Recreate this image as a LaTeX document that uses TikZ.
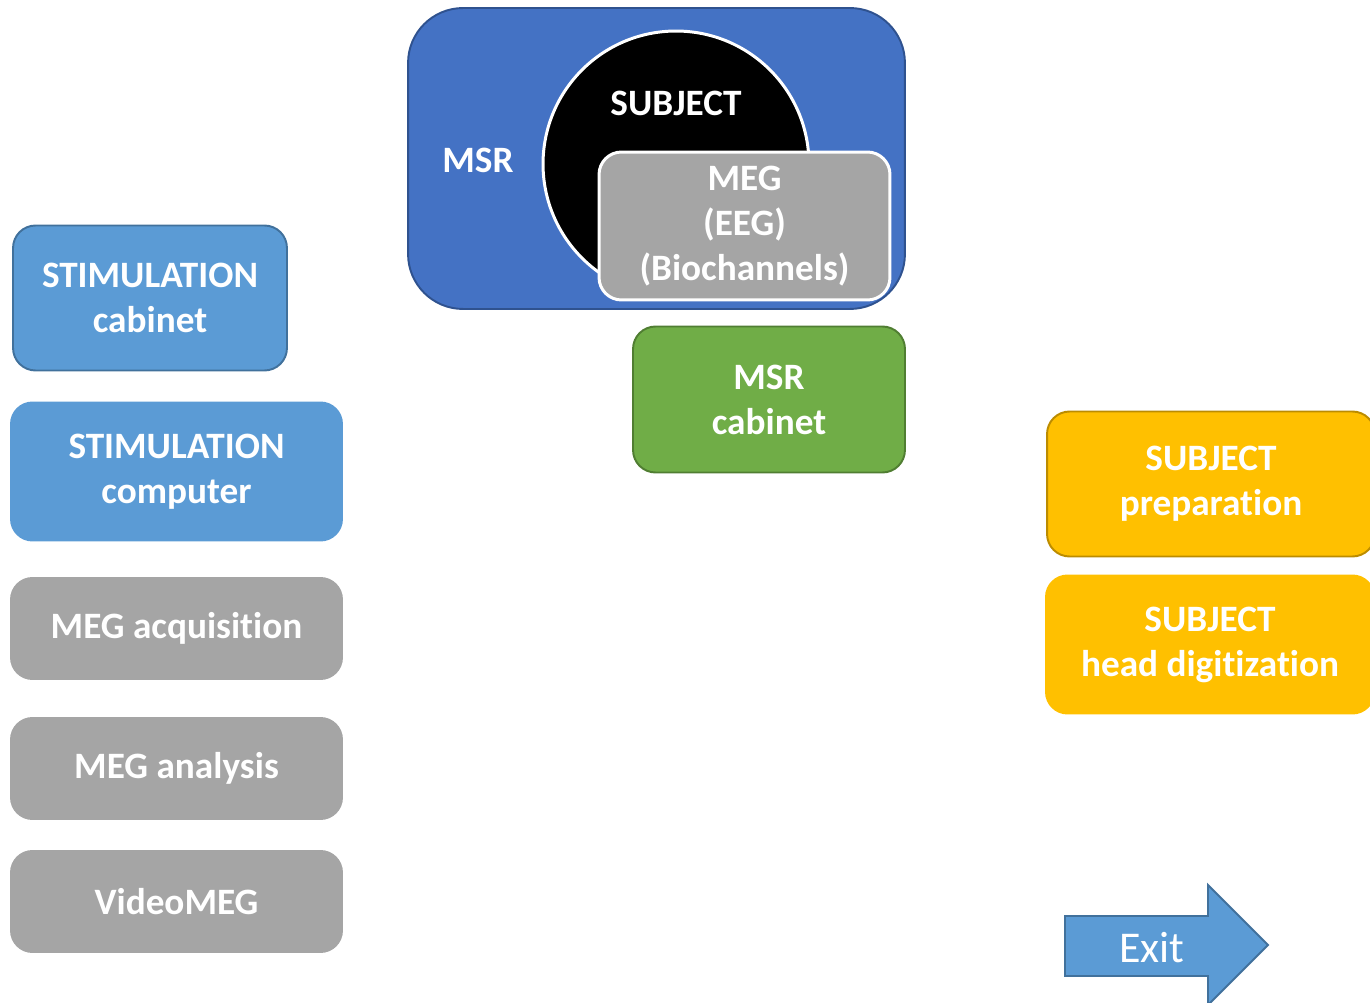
\documentclass[tikz,border=0pt]{standalone}
\usepackage{fontspec}
\setmainfont{Carlito}[Ligatures=NoCommon]
\usepackage{tikz}
\usetikzlibrary{positioning}
\definecolor{msrblue}{HTML}{4472C4}
\definecolor{msredge}{HTML}{2F528F}
\definecolor{stimblue}{HTML}{5B9BD5}
\definecolor{stimedge}{HTML}{41719C}
\definecolor{boxgray}{HTML}{A5A5A5}
\definecolor{cabgreen}{HTML}{70AD47}
\definecolor{cabedge}{HTML}{507E32}
\definecolor{subjgold}{HTML}{FFC000}
\definecolor{subjedge}{HTML}{BC8C00}
\tikzset{
	labeltext/.style={font=\fontsize{21.2}{25.6}\selectfont\bfseries, text=white, align=center}
}
\tikzset{
	roundbox/.style={labeltext, rectangle, rounded corners=0.45cm, inner sep=0pt, line width=1.1pt}
}

\begin{document}
\begin{tikzpicture}[x=0.02cm, y=-0.02cm]
      \useasboundingbox (0,0) rectangle (1370,1003);

      % magnetically shielded room with subject and sensors
      \node[roundbox, rounded corners=1.1cm, fill=msrblue, draw=msredge,
        minimum width=9.94cm, minimum height=6.02cm] (msr) at (656.5,158.5) {};
      \node[circle, fill=black, draw=white, line width=1.7pt, minimum size=5.32cm,
        inner sep=0pt] (subject) at (676,164) {};
      \node[roundbox, fill=boxgray, draw=white, line width=1.7pt,
        minimum width=5.82cm, minimum height=2.96cm] (meg) at (744.5,226)
        {MEG\\(EEG)\\(Biochannels)};
      \node[labeltext] (msrlabel) at (478,160) {MSR};
      \node[labeltext] (subjlabel) at (676,103) {SUBJECT};

      % stimulation and MEG workstations on the left
      \node[roundbox, fill=stimblue, draw=stimedge, minimum width=5.48cm,
        minimum height=2.9cm] (stimcab) at (150,298) {STIMULATION\\cabinet};
      \node[roundbox, fill=stimblue, minimum width=6.66cm,
        minimum height=2.8cm] (stimcomp) at (176.5,471.5) {STIMULATION\\computer};
      \node[roundbox, fill=boxgray, minimum width=6.66cm,
        minimum height=2.06cm] (megacq) at (176.5,628.5) {MEG acquisition};
      \node[roundbox, fill=boxgray, minimum width=6.66cm,
        minimum height=2.06cm] (megana) at (176.5,768.5) {MEG analysis};
      \node[roundbox, fill=boxgray, minimum width=6.66cm,
        minimum height=2.06cm] (videomeg) at (176.5,901.5) {VideoMEG};

      % cabinet below the room
      \node[roundbox, fill=cabgreen, draw=cabedge, minimum width=5.44cm,
        minimum height=2.92cm] (msrcab) at (769,399.5) {MSR\\cabinet};

      % subject steps on the right
      \node[roundbox, fill=subjgold, draw=subjedge, minimum width=6.56cm,
        minimum height=2.9cm] (subjprep) at (1211,484) {SUBJECT\\preparation};
      \node[roundbox, fill=subjgold, minimum width=6.6cm,
        minimum height=2.8cm] (subjdig) at (1210,644.5) {SUBJECT\\head digitization};

      % exit arrow
      \draw[fill=stimblue, draw=stimedge, line width=1.1pt]
        (1065,916) -- (1208,916) -- (1208,885) -- (1268,945)
        -- (1208,1005) -- (1208,976) -- (1065,976) -- cycle;
      \node[font=\fontsize{25}{30}\selectfont, text=white] (exit) at (1152,948) {Exit};
    \end{tikzpicture}
\end{document}
